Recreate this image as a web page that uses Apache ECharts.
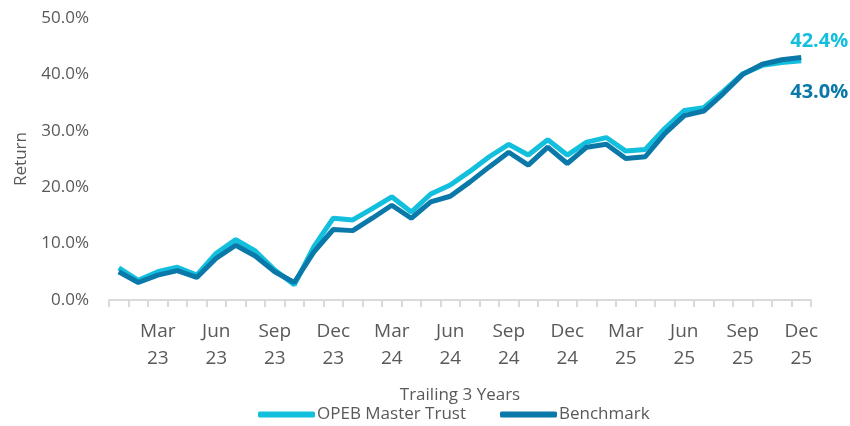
<!DOCTYPE html>
<html>
<head>
<meta charset="utf-8">
<script src="https://cdn.jsdelivr.net/npm/echarts@6/dist/echarts.min.js"></script>
<style>
  html, body { margin: 0; padding: 0; background: #fff; }
  #chart { width: 850px; height: 426px; }
</style>
</head>
<body>
<div id="chart"></div>
<script>
// 月份 Jan 23 - Dec 25
const months = [
  'Jan 23','Feb 23','Mar 23','Apr 23','May 23','Jun 23','Jul 23','Aug 23','Sep 23','Oct 23','Nov 23','Dec 23',
  'Jan 24','Feb 24','Mar 24','Apr 24','May 24','Jun 24','Jul 24','Aug 24','Sep 24','Oct 24','Nov 24','Dec 24',
  'Jan 25','Feb 25','Mar 25','Apr 25','May 25','Jun 25','Jul 25','Aug 25','Sep 25','Oct 25','Nov 25','Dec 25'
]
// 累计回报 (%)
const opebReturn = [
  5.7, 3.5, 5.0, 5.8, 4.4, 8.3, 10.7, 8.7, 5.3, 2.7, 9.4, 14.5,
  14.2, 16.2, 18.3, 15.6, 18.8, 20.4, 22.8, 25.4, 27.6, 25.7, 28.4, 25.7,
  28.0, 28.8, 26.4, 26.7, 30.4, 33.6, 34.1, 37.0, 40.1, 41.6, 42.1, 42.4
]
const benchReturn = [
  5.0, 3.1, 4.4, 5.2, 4.0, 7.4, 9.7, 7.8, 5.0, 3.1, 8.5, 12.5,
  12.3, 14.5, 16.8, 14.5, 17.4, 18.4, 20.9, 23.6, 26.2, 23.9, 27.1, 24.2,
  27.1, 27.6, 25.1, 25.4, 29.5, 32.7, 33.5, 36.6, 40.0, 41.8, 42.6, 43.0
]
const yTicks = [0, 10, 20, 30, 40, 50]

const textColor = '#595959'
const fontFamily = '"Open Sans", sans-serif'

const chart = echarts.init(document.getElementById('chart'))
const option = {
  animation: false,
  textStyle: { fontFamily: fontFamily, color: textColor },
  grid: { left: 109, right: 39, top: 18, bottom: 126 },
  legend: {
    top: 406,
    left: 258,
    padding: 0,
    icon: 'roundRect',
    itemWidth: 57,
    itemHeight: 6,
    itemGap: 34,
    textStyle: { fontSize: 17, color: textColor, fontFamily: fontFamily, padding: [0, 0, 0, -3] },
    data: ['OPEB Master Trust', 'Benchmark']
  },
  xAxis: {
    type: 'category',
    data: months,
    boundaryGap: true,
    name: 'Trailing 3 Years',
    nameLocation: 'middle',
    nameGap: 87,
    nameTextStyle: { fontSize: 17, color: textColor },
    axisLine: { lineStyle: { color: '#d9d9d9', width: 2 } },
    axisTick: { show: true, interval: 0, length: 7, lineStyle: { color: '#d9d9d9', width: 2 } },
    axisLabel: {
      interval: (idx) => idx % 3 === 2,
      formatter: (v) => v.replace(' ', '\n'),
      fontSize: 19,
      lineHeight: 27,
      margin: 18,
      color: textColor
    }
  },
  yAxis: {
    type: 'value',
    min: yTicks[0],
    max: yTicks[yTicks.length - 1],
    interval: 10,
    name: 'Return',
    nameLocation: 'middle',
    nameGap: 79,
    nameTextStyle: { fontSize: 17, color: textColor },
    axisLine: { show: false },
    axisTick: { show: false },
    splitLine: { show: false },
    axisLabel: {
      formatter: (v) => v.toFixed(1) + '%',
      fontSize: 17,
      margin: 20,
      color: textColor
    }
  },
  series: [
    {
      name: 'OPEB Master Trust',
      type: 'line',
      data: opebReturn,
      showSymbol: false,
      symbol: 'none',
      lineStyle: { color: '#12bfdd', width: 5 },
      itemStyle: { color: '#12bfdd' },
      endLabel: {
        show: true,
        formatter: (p) => p.value.toFixed(1) + '%',
        color: '#12bfdd',
        fontSize: 20,
        fontWeight: 'bold',
        offset: [-19, -20]
      }
    },
    {
      name: 'Benchmark',
      type: 'line',
      data: benchReturn,
      showSymbol: false,
      symbol: 'none',
      lineStyle: { color: '#0a78a8', width: 5 },
      itemStyle: { color: '#0a78a8' },
      endLabel: {
        show: true,
        formatter: (p) => p.value.toFixed(1) + '%',
        color: '#0a78a8',
        fontSize: 20,
        fontWeight: 'bold',
        offset: [-19, 35]
      }
    }
  ]
}
chart.setOption(option)
</script>
</body>
</html>
